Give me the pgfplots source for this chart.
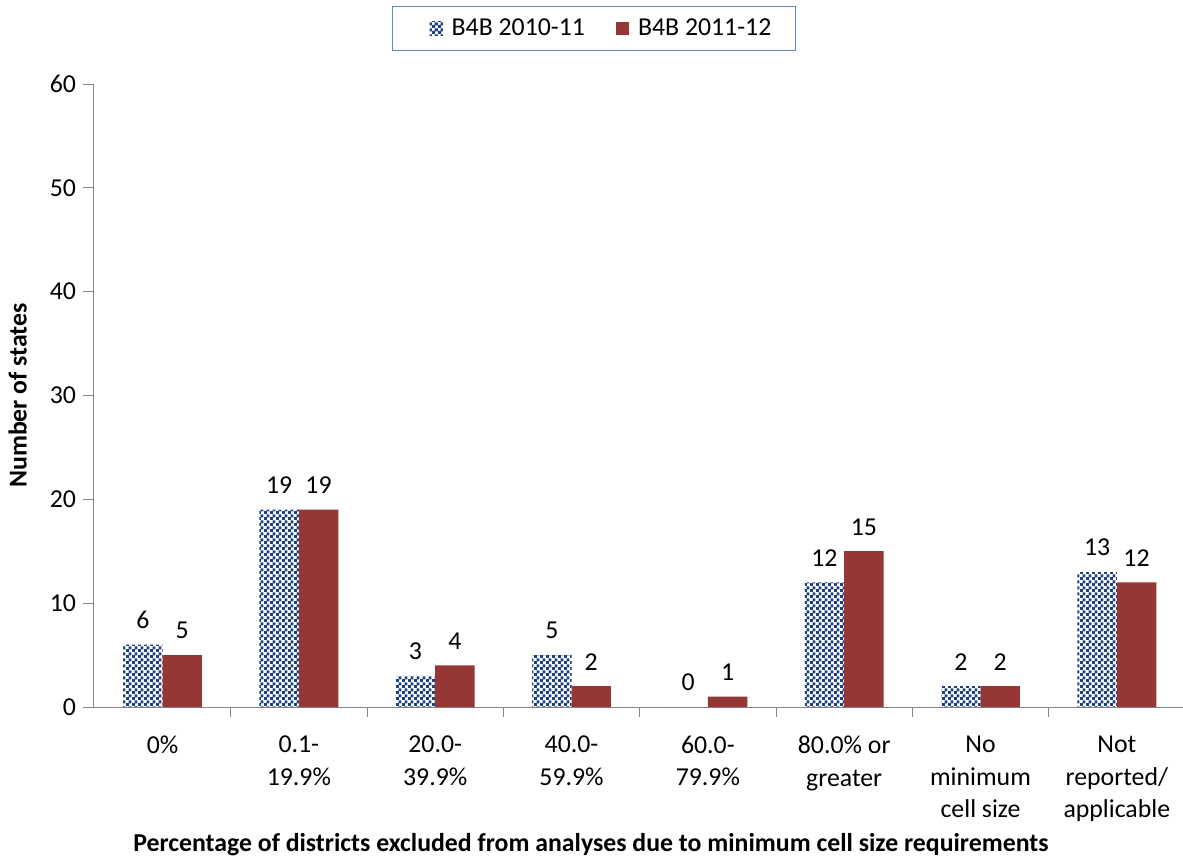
\documentclass[border=0pt]{standalone}
\usepackage{pgfplots}
\pgfplotsset{compat=1.18}
\usepackage{fontspec}
\setmainfont{Carlito}
\usetikzlibrary{patterns.meta}
\definecolor{myred}{RGB}{149,55,53}
\definecolor{myblue}{RGB}{28,64,128}
\definecolor{axgray}{RGB}{134,134,134}
\definecolor{legblue}{RGB}{95,135,190}
\pgfdeclarepattern{name=checker, type=uncolored,
  bottom left={\pgfpoint{0pt}{0pt}}, top right={\pgfpoint{3pt}{3pt}},
  tile size={\pgfpoint{3pt}{3pt}},
  code={\pgfpathrectangle{\pgfpointorigin}{\pgfpoint{1.7pt}{1.7pt}}
        \pgfpathrectangle{\pgfpoint{1.5pt}{1.5pt}}{\pgfpoint{1.7pt}{1.7pt}}
        \pgfusepath{fill}}}
\begin{document}
\begin{tikzpicture}
\useasboundingbox (-46.5pt,-77.5pt) rectangle (545pt,353.5pt);
\begin{axis}[
  at={(0,0)}, anchor=south west,
  scale only axis, width=546pt, height=311.5pt,
  font=\fontsize{12.9}{16.2}\selectfont,
  /pgf/number format/assume math mode=true,
  ybar=0pt, bar width=19.7pt,
  xmin=-0.51, xmax=7.5, ymin=0, ymax=60,
  axis lines=left, axis line style={axgray, -},
  ytick={0,10,...,60},
  y tick label style={font=\fontsize{12.9}{14}\selectfont},
  tick align=outside,
  major tick length=5pt, minor tick length=5pt,
  tick style={axgray, thin},
  xtick={0,...,7},
  major x tick style={draw=none},
  minor xtick={0.5,1.5,...,6.5},
  minor x tick style={axgray},
  xticklabels={0\%, {0.1-\\19.9\%}, {20.0-\\39.9\%}, {40.0-\\59.9\%}, {60.0-\\79.9\%}, {80.0\% or\\greater}, {No\\minimum\\cell size}, {Not\\reported/\\applicable}},
  xticklabel style={align=center, yshift=-6pt},
  xlabel={\bfseries Percentage of districts excluded from analyses due to minimum cell size requirements},
  xlabel style={at={(rel axis cs:0.456,-0.221)}, anchor=center},
  ylabel={\bfseries Number of states},
  ylabel style={at={(rel axis cs:-0.069,0.5)}, anchor=center, rotate=0},
  nodes near coords,
  every node near coord/.append style={yshift=4.5pt, font=\fontsize{12.9}{14}\selectfont},
  legend columns=2,
  legend style={at={(rel axis cs:0.4588,1.089)}, anchor=center, draw=legblue, line width=0.8pt,
    inner xsep=10pt, inner ysep=4pt, font=\fontsize{12.9}{14}\selectfont,
    /tikz/every even column/.append style={column sep=5pt}},
  legend image code/.code={\path[draw=none, fill=none, pattern=none] (-8.5pt,0) rectangle (9pt,0.01pt);\fill[#1, draw=none] (0pt,-3.3pt) rectangle (6.6pt,3.3pt);},
]
\addplot[draw=none, pattern={checker}, pattern color=myblue] coordinates {(0,6) (1,19) (2,3) (3,5) (4,0) (5,12) (6,2) (7,13)};
\addplot[draw=none, fill=myred] coordinates {(0,5) (1,19) (2,4) (3,2) (4,1) (5,15) (6,2) (7,12)};
\legend{B4B 2010-11, B4B 2011-12}
\end{axis}
\end{tikzpicture}
\end{document}
